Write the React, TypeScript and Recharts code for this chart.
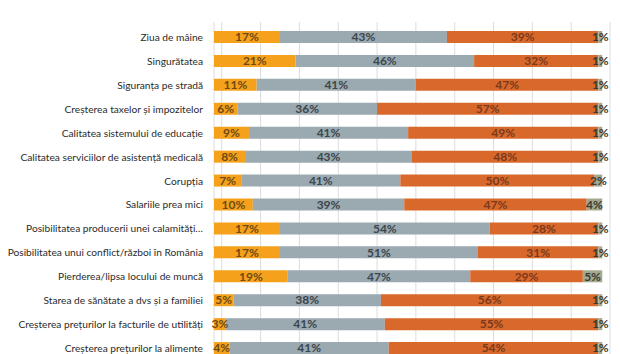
import React from "react";
import { BarChart, Bar, XAxis, YAxis, CartesianGrid, LabelList } from "recharts";

const categories = [
  "Ziua de mâine",
  "Singurătatea",
  "Siguranța pe stradă",
  "Creșterea taxelor și impozitelor",
  "Calitatea sistemului de educație",
  "Calitatea serviciilor de asistență medicală",
  "Corupția",
  "Salariile prea mici",
  "Posibilitatea producerii unei calamități…",
  "Posibilitatea unui conflict/război în România",
  "Pierderea/lipsa locului de muncă",
  "Starea de sănătate a dvs și a familiei",
  "Creșterea prețurilor la facturile de utilități",
  "Creșterea prețurilor la alimente",
];

const seriesA = [17, 21, 11, 6, 9, 8, 7, 10, 17, 17, 19, 5, 3, 4];
const seriesB = [43, 46, 41, 36, 41, 43, 41, 39, 54, 51, 47, 38, 41, 41];
const seriesC = [39, 32, 47, 57, 49, 48, 50, 47, 28, 31, 29, 56, 55, 54];
const seriesD = [1, 1, 1, 1, 1, 1, 2, 4, 1, 1, 5, 1, 1, 1];

const gridTicks = [2, 12, 22, 32, 42, 52, 62, 72, 82, 92, 102];

const data = categories.map((name, i) => ({
  name,
  a: seriesA[i],
  b: seriesB[i],
  c: seriesC[i],
  d: seriesD[i],
}));

const FONT = "Lato, 'Open Sans', sans-serif";

const pct = (v: any) => `${v}%`;

const labelStyle = (fill: string) => ({
  fill,
  fontSize: 12,
  fontWeight: 700,
  fontFamily: FONT,
});

const CategoryTick = (props: any) => {
  const { x, y, payload } = props;
  return (
    <text
      x={x}
      y={y}
      dy={4}
      textAnchor="end"
      fill="#2b2b2b"
      fontSize={10.2}
      fontFamily={FONT}
    >
      {payload.value}
    </text>
  );
};

export default function App() {
  return (
    <div style={{ width: 612, height: 360, background: "#fff" }}>
      <BarChart
        width={612}
        height={360}
        data={data}
        layout="vertical"
        margin={{ top: 14, right: 10, bottom: 8, left: 0 }}
        barCategoryGap={0}
      >
        <CartesianGrid
          horizontal={false}
          vertical={true}
          stroke="#dcdcdc"
          strokeWidth={1}
        />
        <XAxis
          type="number"
          domain={[0, 102]}
          ticks={gridTicks}
          hide
          allowDataOverflow
        />
        <YAxis
          type="category"
          dataKey="name"
          width={206}
          axisLine={false}
          tickLine={false}
          tickSize={0}
          tickMargin={11}
          interval={0}
          padding={{ top: 3, bottom: 0 }}
          tick={<CategoryTick />}
        />
        <Bar dataKey="a" stackId="s" fill="#f5a11c" barSize={12} isAnimationActive={false}>
          <LabelList dataKey="a" position="center" formatter={pct} style={labelStyle("#6e4a14")} />
        </Bar>
        <Bar dataKey="b" stackId="s" fill="#9ba9b0" barSize={12} isAnimationActive={false}>
          <LabelList dataKey="b" position="center" formatter={pct} style={labelStyle("#3c464c")} />
        </Bar>
        <Bar dataKey="c" stackId="s" fill="#d9682b" barSize={12} isAnimationActive={false}>
          <LabelList dataKey="c" position="center" formatter={pct} style={labelStyle("#7a3a1c")} />
        </Bar>
        <Bar dataKey="d" stackId="s" fill="#a3a88e" barSize={12} isAnimationActive={false}>
          <LabelList dataKey="d" position="center" formatter={pct} style={labelStyle("#3a3a30")} />
        </Bar>
      </BarChart>
    </div>
  );
}
